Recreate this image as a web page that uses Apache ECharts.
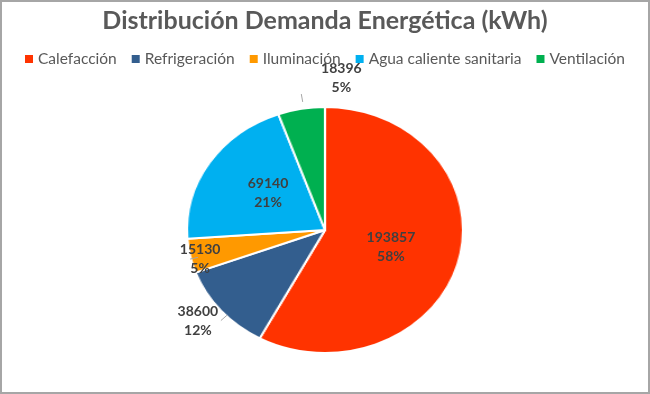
<!DOCTYPE html>
<html><head><meta charset="utf-8">
<script src="https://cdn.jsdelivr.net/npm/echarts@6/dist/echarts.min.js"></script>
<style>
html,body{margin:0;padding:0;background:#fff;}
#wrap{position:relative;width:650px;height:394px;box-sizing:border-box;border:2px solid #a6a6a6;overflow:hidden;}
#pie,#txt{position:absolute;left:0;top:0;width:646px;height:390px;}
#pie{transform:scaleX(1.122);transform-origin:323px 228px;}
</style></head><body>
<div id="wrap"><div id="pie"></div><div id="txt"></div></div>
<script>
const titleText = 'Distribución Demanda Energética (kWh)';
const categories = ['Calefacción','Refrigeración','Iluminación','Agua caliente sanitaria','Ventilación'];
const values = [193857, 38600, 15130, 69140, 18396];
const colors = ['#ff3300','#335e8e','#ff9900','#00b0f0','#00b050'];
const labelPositions = ['inside','outside','outside','inside','outside'];

const total = values.reduce((a,b)=>a+b,0);
const FONT = 'Lato';
const CENTER = [323,228];

// slices (stretched horizontally to match the elliptical pie)
const pieChart = echarts.init(document.getElementById('pie'));
pieChart.setOption({
  animation:false,
  color:colors,
  series:[{
    type:'pie',center:CENTER,radius:[0,123],startAngle:90,clockwise:true,
    itemStyle:{borderColor:'#fff',borderWidth:2},
    label:{show:false},labelLine:{show:false},
    data:categories.map((n,i)=>({name:n,value:values[i]}))
  }]
});

// title, legend and labels
const labelShift = {4:[45,-16], 2:[15,0], 1:[-18,0]};
const txtChart = echarts.init(document.getElementById('txt'));
txtChart.setOption({
  animation:false,
  title:{text:titleText,left:'center',top:1,
    textStyle:{fontFamily:FONT,fontSize:25,fontWeight:'bold',color:'#595959'}},
  legend:{top:44,left:'center',itemWidth:8,itemHeight:8,itemGap:15,icon:'rect',
    textStyle:{fontFamily:FONT,fontSize:15.5,color:'#595959',padding:[0,0,0,0]},
    data:categories.map((n,i)=>({name:n,itemStyle:{color:colors[i]}}))},
  series:[{
    type:'pie',center:CENTER,radius:[0,130],startAngle:90,clockwise:true,
    itemStyle:{color:'rgba(0,0,0,0)',borderWidth:0},
    emphasis:{disabled:true},
    labelLine:{show:true,length:8,length2:0,lineStyle:{color:'#a6a6a6',width:1}},
    labelLayout:p=>{const s=labelShift[p.dataIndex];return s?{dx:s[0],dy:s[1],align:'center'}:{};},
    label:{
      fontFamily:FONT,fontSize:14,fontWeight:'bold',color:'#404040',lineHeight:19,
      formatter:p=>'{c|'+p.value+'}\n{c|'+Math.round(p.value/total*100)+'%}',
      rich:{c:{align:'center',fontFamily:FONT,fontSize:14,fontWeight:'bold',color:'#404040',lineHeight:19}}
    },
    data:categories.map((n,i)=>({name:n,value:values[i],
      label:{position:labelPositions[i]},
      labelLine:{show:labelPositions[i]==='outside'}}))
  }]
});
</script></body></html>
